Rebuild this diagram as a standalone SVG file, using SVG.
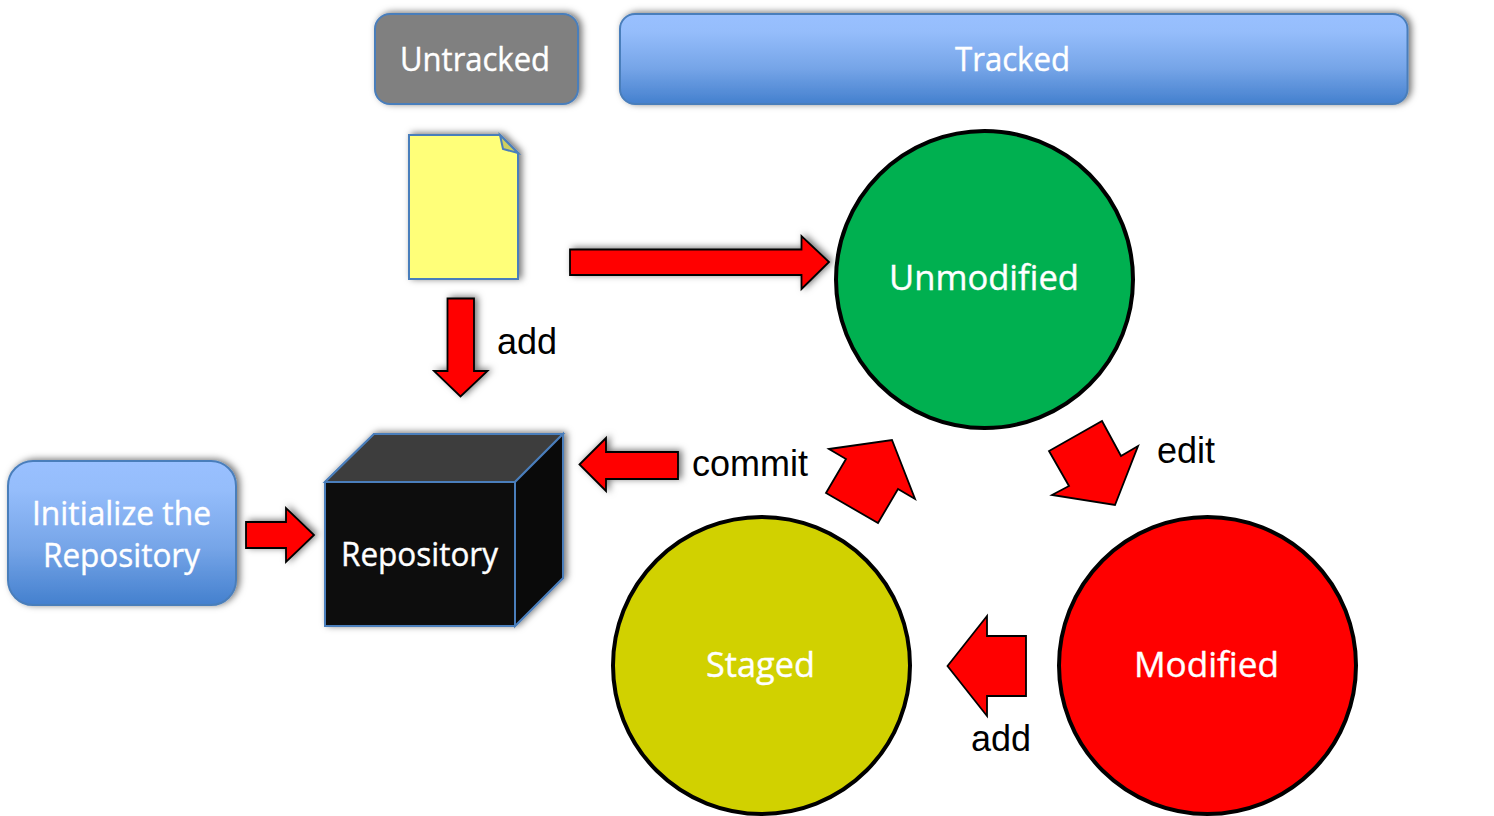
<svg xmlns="http://www.w3.org/2000/svg" width="1494" height="816" viewBox="0 0 1494 816">
<style>
.lbl{font-family:"Open Sans","Noto Sans","Liberation Sans",sans-serif;font-size:32px;fill:#fff;stroke:#fff;stroke-width:0.4;text-anchor:middle}
.big{font-size:35px}
.cap{font-family:"Liberation Sans",Arial,sans-serif;font-size:36px;fill:#000}
.box{stroke:#4a7ebb;stroke-width:2}
.circ{stroke:#000;stroke-width:4}
.arr{fill:#f00;stroke:#000;stroke-width:1.8;stroke-linejoin:miter}
.shadow{filter:url(#sh)}
</style>
<defs>
<linearGradient id="blue" x1="0" y1="0" x2="0" y2="1">
<stop offset="0" stop-color="#99c0ff"/><stop offset="0.2" stop-color="#95bdfb"/><stop offset="0.6" stop-color="#76a5e8"/><stop offset="1" stop-color="#4480ce"/>
</linearGradient>
<filter id="sh" x="-20%" y="-20%" width="140%" height="140%">
<feDropShadow dx="3" dy="-1" stdDeviation="3.500" flood-color="#000" flood-opacity="0.55"/>
</filter>
</defs>
<rect width="1494" height="816" fill="#fff"/>
<g id="connectors">
<polygon class="arr shadow" points="570,249.500 801.500,249.500 801.500,236 829,262 801.500,289 801.500,275 570,275"/>
<polygon class="arr shadow" points="447.500,298.500 474,298.500 474,371 487.500,371 460.500,396.500 434,371 447.500,371"/>
<polygon class="arr shadow" points="246,522 286,522 286,508 314,535 286,562 286,548 246,548"/>
<polygon class="arr shadow" points="579.500,464.500 606,438 606,452 678,452 678,479 606,479 606,491"/>
<polygon class="arr" points="829,449 892,440 915,499 898,489 878,523 826,493 846,459"/>
<polygon class="arr" points="1102,421 1121,456 1138,446 1115,505 1052,495 1069,486 1049,451"/>
<polygon class="arr" points="947.500,666 987,616 987,636 1026,636 1026,696 987,696 987,716"/>
</g>
<g id="untracked">
<rect class="box shadow" x="375" y="14" width="203" height="90" rx="15" fill="#808080"/>
<text class="lbl" x="475" y="71" textLength="150" lengthAdjust="spacingAndGlyphs">Untracked</text>
</g>
<g id="tracked">
<rect class="box shadow" x="620" y="14" width="787.500" height="90" rx="15" fill="url(#blue)"/>
<text class="lbl" x="1012.500" y="71" textLength="115" lengthAdjust="spacingAndGlyphs">Tracked</text>
</g>
<g id="file">
<polygon class="box shadow" points="409,135 500,135 518,153 518,279 409,279" fill="#ffff79"/>
<polygon class="box" points="500,135 503,149 518,153" fill="#cfcf5f"/>
</g>
<g id="init">
<rect class="box shadow" x="8" y="461" width="228" height="144" rx="25" fill="url(#blue)"/>
<text class="lbl" x="121.500" y="525" textLength="179" lengthAdjust="spacingAndGlyphs">Initialize the</text>
<text class="lbl" x="121.500" y="567" textLength="157" lengthAdjust="spacingAndGlyphs">Repository</text>
</g>
<g id="repository">
<polygon class="box shadow" points="325,482 374,434 563,434 563,578 515,626 325,626" fill="#0d0d0d"/>
<polygon class="box" points="325,482 374,434 563,434 515,482" fill="#3d3d3d"/>
<polygon class="box" points="515,482 563,434 563,578 515,626" fill="#0a0a0a"/>
<rect class="box" x="325" y="482" width="190" height="144" fill="#0d0d0d"/>
<text class="lbl" x="419.500" y="566" textLength="157" lengthAdjust="spacingAndGlyphs">Repository</text>
</g>
<g id="unmodified">
<circle class="circ" cx="984.500" cy="279.500" r="148.500" fill="#00b050"/>
<text class="lbl big" x="984" y="290" textLength="190" lengthAdjust="spacingAndGlyphs">Unmodified</text>
</g>
<g id="modified">
<circle class="circ" cx="1207.500" cy="665.500" r="148.500" fill="#f00"/>
<text class="lbl big" x="1206.500" y="677" textLength="145" lengthAdjust="spacingAndGlyphs">Modified</text>
</g>
<g id="staged">
<circle class="circ" cx="761.500" cy="665.500" r="148.500" fill="#d1d100"/>
<text class="lbl big" x="760.500" y="677" textLength="109" lengthAdjust="spacingAndGlyphs">Staged</text>
</g>
<g id="captions">
<text class="cap" x="497" y="354">add</text>
<text class="cap" x="692" y="476">commit</text>
<text class="cap" x="1157" y="463">edit</text>
<text class="cap" x="971" y="751">add</text>
</g>
</svg>
